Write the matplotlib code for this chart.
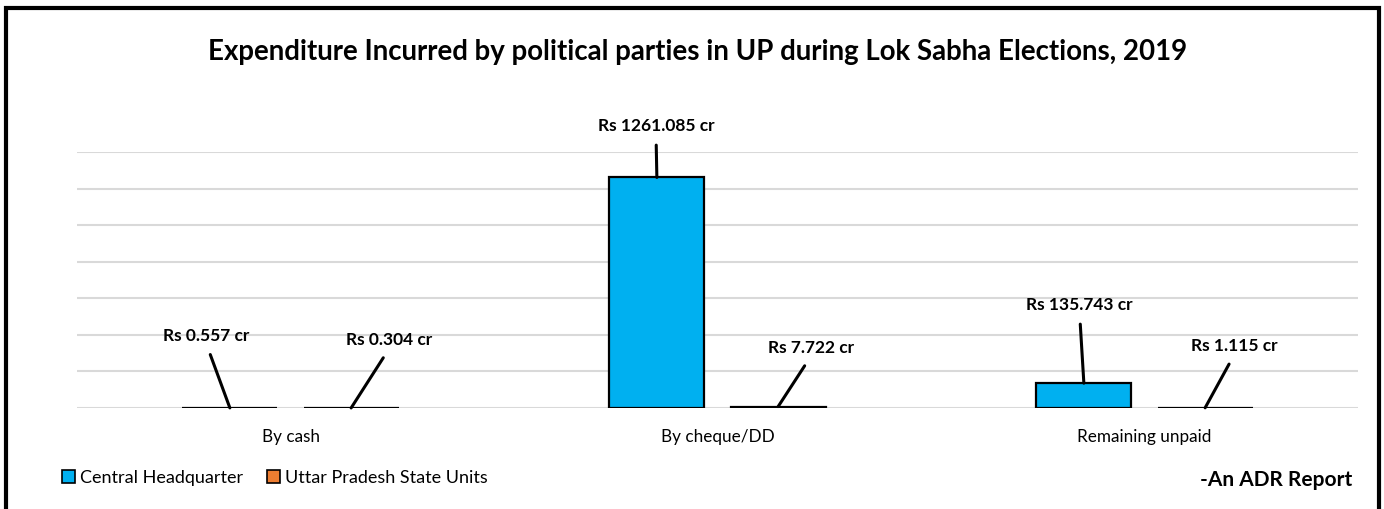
import matplotlib
matplotlib.use("Agg")
import matplotlib.pyplot as plt
from matplotlib.patches import Rectangle, Patch
import numpy as np

plt.rcParams['font.family'] = ['Lato', 'DejaVu Sans']

categories = ["By cash", "By cheque/DD", "Remaining unpaid"]
series_names = ["Central Headquarter", "Uttar Pradesh State Units"]
central = [0.557, 1261.085, 135.743]
state = [0.304, 7.722, 1.115]
colors = ["#00B0F0", "#ED7D31"]

# label text positions (x offset from category centre, y in data units)
label_pos_central = [(-0.197, 394), (-0.144, 1542), (-0.152, 563)]
label_pos_state = [(0.232, 372), (0.219, 328), (0.211, 339)]

fig = plt.figure(figsize=(13.84, 5.09), dpi=100)
ax = fig.add_axes([77/1384, 1 - 408/509, (1358-77)/1384, (408-152)/509])

x = np.arange(len(categories))
w = 0.223
off = 0.142
ax.bar(x - off, central, w, color=colors[0], edgecolor="black", linewidth=1.6, zorder=3)
ax.bar(x + off, state, w, color=colors[1], edgecolor="black", linewidth=1.6, zorder=3)

ax.set_xlim(-0.5, 2.5)
ax.set_ylim(0, 1400)
ax.set_yticks(np.arange(0, 1401, 200))
ax.yaxis.grid(True, color="#D9D9D9", linewidth=1.5, zorder=0)
ax.set_yticklabels([])
ax.tick_params(axis='y', length=0)
for s in ax.spines.values():
    s.set_visible(False)
ax.set_xticks(x)
ax.set_xticklabels(categories, fontsize=12.3)
ax.tick_params(axis='x', length=0, pad=15)

def label(xb, val, tx, ty):
    ax.annotate(f"Rs {val} cr", xy=(xb, val), xytext=(tx, ty),
                textcoords='data', ha='center', va='center', fontsize=12.5, fontweight='bold',
                annotation_clip=False,
                arrowprops=dict(arrowstyle='-', color='black', lw=2.2, relpos=(0.5, 0),
                                shrinkA=6, shrinkB=0), zorder=5)

for i in range(3):
    dx, ty = label_pos_central[i]
    label(x[i] - off, central[i], x[i] + dx, ty)
    dx, ty = label_pos_state[i]
    label(x[i] + off, state[i], x[i] + dx, ty)

fig.text(698/1384, 1 - 52/509, "Expenditure Incurred by political parties in UP during Lok Sabha Elections, 2019",
         ha='center', va='center', fontsize=19.9, fontweight='bold')

handles = [Patch(facecolor=c, edgecolor='black', linewidth=1.2) for c in colors]
fig.legend(handles, series_names, loc='center left', bbox_to_anchor=(46/1384, 1 - 478/509),
           ncol=2, frameon=False, fontsize=13, handlelength=0.7, handleheight=0.7,
           handletextpad=0.3, columnspacing=1.3)

fig.text(1352/1384, 1 - 480/509, "-An ADR Report", ha='right', va='center', fontsize=15, fontweight='bold')

fig.patches.append(Rectangle((6/1384, -0.05), (1379-6)/1384, 1.05 - 8/509, transform=fig.transFigure,
                             fill=False, edgecolor='black', linewidth=3, zorder=10))

fig.savefig("out.png", dpi=100)
